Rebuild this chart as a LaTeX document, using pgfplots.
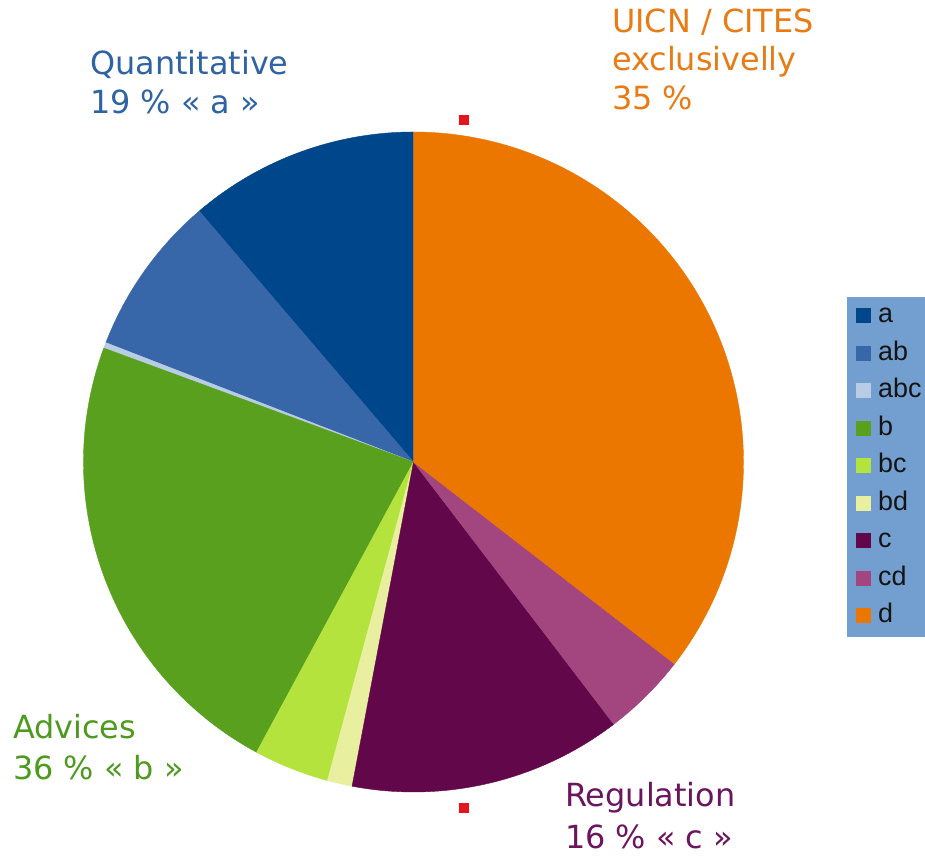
\documentclass[border=0pt]{standalone}
\usepackage{pgfplots}
\usepackage{pgfplotstable}
\pgfplotsset{compat=1.18}
\usepackage{fontspec}
\setmainfont{DejaVu Sans}
\newfontfamily\legfont{Liberation Sans}

% slice colours in table order: a ab abc b bc bd c cd d
\definecolor{pie0}{HTML}{00468A}
\definecolor{pie1}{HTML}{3767A8}
\definecolor{pie2}{HTML}{B8CCE4}
\definecolor{pie3}{HTML}{58A01E}
\definecolor{pie4}{HTML}{B5E33D}
\definecolor{pie5}{HTML}{E8F0A0}
\definecolor{pie6}{HTML}{63074B}
\definecolor{pie7}{HTML}{A3457F}
\definecolor{pie8}{HTML}{EB7600}
\definecolor{legbg}{HTML}{729FCF}
\definecolor{txtblue}{HTML}{2F63A3}
\definecolor{txtorange}{HTML}{E87B14}
\definecolor{txtgreen}{HTML}{4E9A1F}
\definecolor{txtpurple}{HTML}{6B155F}
\definecolor{mkred}{HTML}{E3141C}

% share of each category, in percent (counterclockwise from 12 o'clock)
\pgfplotstableread{
label value
a     11.25
ab    7.86
abc   0.28
b     22.72
bc    3.69
bd    1.22
c     13.36
cd    4.14
d     35.48
}\piedata

\begin{document}
\begin{tikzpicture}
\gdef\slicelist{}
\gdef\cumangle{90}
\foreach \i in {0,...,8}{%
  \pgfplotstablegetelem{\i}{value}\of\piedata
  \pgfmathsetmacro\endangle{\cumangle+3.6*\pgfplotsretval}%
  \xdef\slicelist{\unexpanded\expandafter{\slicelist}\noexpand\fill[pie\i, draw=pie\i, line width=0.4bp] (axis cs:413.5,397) -- ++(\cumangle:330bp) arc[start angle=\cumangle, end angle=\endangle, radius=330bp] -- cycle;}%
  \global\let\cumangle\endangle
}
\begin{axis}[
  name=ax,
  x=1bp, y=1bp,
  xmin=0, xmax=925, ymin=0, ymax=859,
  hide axis, clip=false,
  legend image code/.code={\fill[#1, draw=none] (0bp,-7.5bp) rectangle (15bp,7.5bp);},
  legend style={at={(axis cs:856,556)}, anchor=north west, draw=none, fill=none,
    font=\legfont\fontsize{27}{30}\selectfont, text=black!92,
    inner sep=0pt, row sep=12.2bp,
    nodes={inner sep=0pt, text height=19.5bp, text depth=5.8bp},
    /tikz/every odd column/.append style={column sep=7bp}},
  legend cell align=left,
]
\fill[legbg] (axis cs:847,222) rectangle (axis cs:945,562);
\slicelist
\addplot[only marks, mark=square*, mark size=4.5bp, color=mkred, forget plot] coordinates {(464,739) (464,51)};

\addlegendimage{fill=pie0}\addlegendentry{a}
\addlegendimage{fill=pie1}\addlegendentry{ab}
\addlegendimage{fill=pie2}\addlegendentry{abc}
\addlegendimage{fill=pie3}\addlegendentry{b}
\addlegendimage{fill=pie4}\addlegendentry{bc}
\addlegendimage{fill=pie5}\addlegendentry{bd}
\addlegendimage{fill=pie6}\addlegendentry{c}
\addlegendimage{fill=pie7}\addlegendentry{cd}
\addlegendimage{fill=pie8}\addlegendentry{d}

\begin{scope}[every node/.style={anchor=base west, inner sep=0pt, font=\fontsize{32}{36}\selectfont}]
\node[text=txtblue] at (axis cs:90,784) {Quantitative};
\node[text=txtblue] at (axis cs:90,745) {19 \% « a »};
\node[text=txtorange] at (axis cs:612,826) {UICN / CITES};
\node[text=txtorange] at (axis cs:612,788) {exclusivelly};
\node[text=txtorange] at (axis cs:612,749) {35 \%};
\node[text=txtgreen] at (axis cs:13,120) {Advices};
\node[text=txtgreen] at (axis cs:13,79) {36 \% « b »};
\node[text=txtpurple] at (axis cs:565,52) {Regulation};
\node[text=txtpurple] at (axis cs:565,10) {16 \% « c »};
\end{scope}
\end{axis}
\pgfresetboundingbox
\useasboundingbox (ax.south west) rectangle (ax.north east);
\end{tikzpicture}
\end{document}
